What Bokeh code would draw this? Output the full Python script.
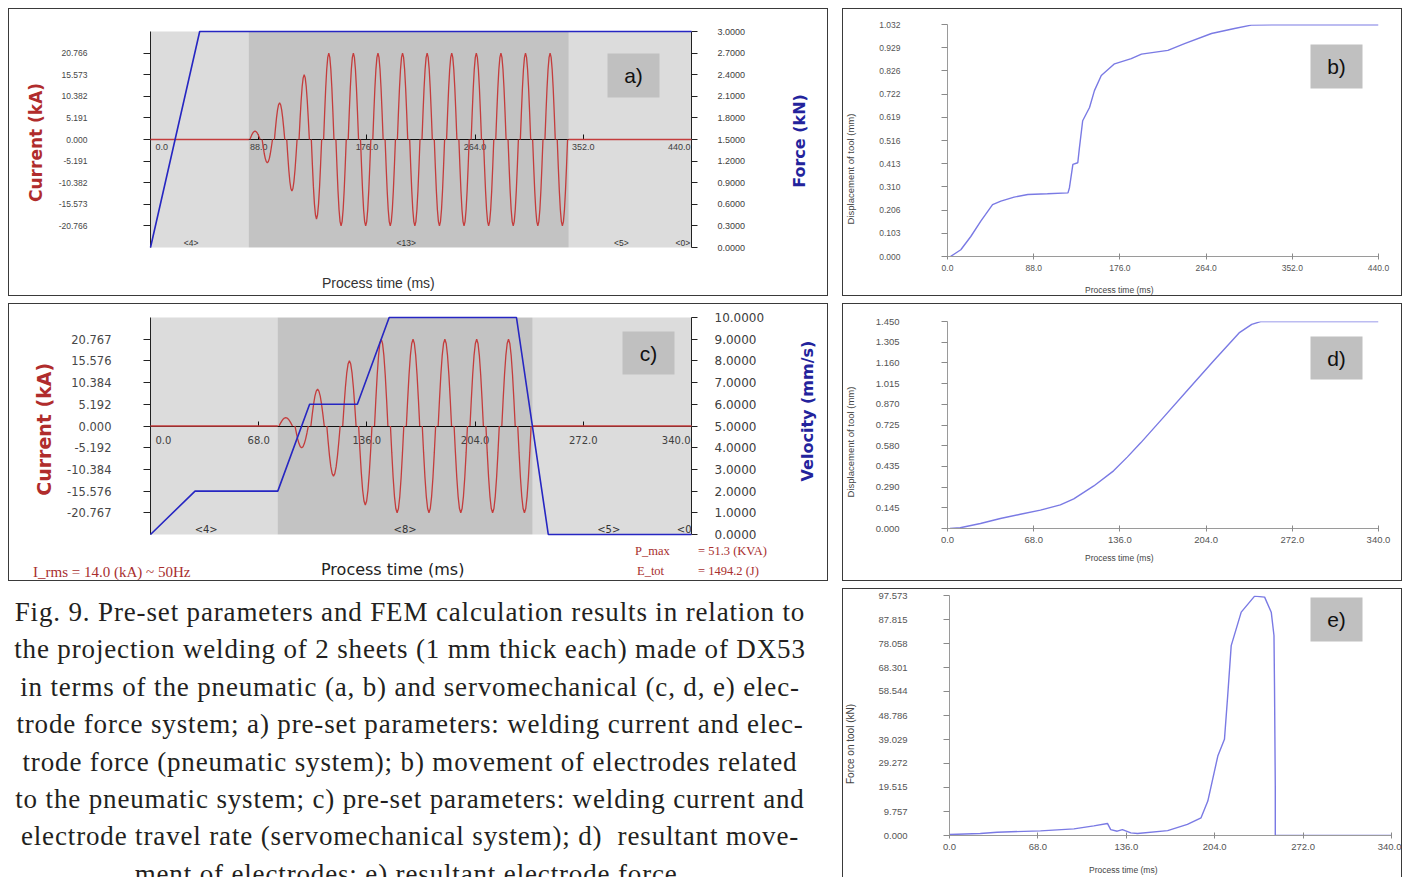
import math
from bokeh.plotting import figure
from bokeh.models import (Range1d, LinearAxis, FixedTicker, PrintfTickFormatter,
                          BoxAnnotation, Label, Div)
from bokeh.layouts import row, column
from bokeh.embed import file_html
from bokeh.resources import INLINE
from bokeh.core.properties import value

NAN = float("nan")

# ---------------- (a) pneumatic system: pre-set current & electrode force ----------------
a_time_ticks = [0.0, 88.0, 176.0, 264.0, 352.0, 440.0]
a_current_ticks = [-20.766, -15.573, -10.382, -5.191, 0.0, 5.191, 10.382, 15.573, 20.766]
a_current_limit = 25.9575
a_force_ticks = [0.0, 0.3, 0.6, 0.9, 1.2, 1.5, 1.8, 2.1, 2.4, 2.7, 3.0]
a_phase_bounds = [0.0, 80.0, 340.0, 440.0]          # squeeze | weld | hold | end
a_phase_names = ["<4>", "<13>", "<5>", "<0>"]
a_phase_name_t = [33.0, 208.0, 383.0, 433.0]
a_half_cycle_peak_kA = [2.0, -5.6, 8.8, -12.4, 15.6, -19.1,
                        20.766, -20.766, 20.766, -20.766, 20.766, -20.766, 20.766, -20.766,
                        20.766, -20.766, 20.766, -20.766, 20.766, -20.766, 20.766, -20.766,
                        20.766, -20.766, 20.766, -20.766]
a_force_t = [0.0, 40.0, 440.0]
a_force_kN = [0.0, 3.0, 3.0]

# ---------------- (c) servomechanical system: pre-set current & travel rate ----------------
c_time_ticks = [0.0, 68.0, 136.0, 204.0, 272.0, 340.0]
c_current_ticks = [-20.767, -15.576, -10.384, -5.192, 0.0, 5.192, 10.384, 15.576, 20.767]
c_current_limit = 25.959
c_velocity_ticks = [0.0, 1.0, 2.0, 3.0, 4.0, 5.0, 6.0, 7.0, 8.0, 9.0, 10.0]
c_phase_bounds = [0.0, 80.0, 240.0, 340.0]
c_phase_names = ["<4>", "<8>", "<5>", "<0>"]
c_phase_name_t = [35.0, 160.0, 288.0, 338.0]
c_half_cycle_peak_kA = [2.0, -5.2, 8.8, -12.0, 15.6, -18.9,
                        20.767, -20.767, 20.767, -20.767, 20.767, -20.767,
                        20.767, -20.767, 20.767, -20.767]
c_velocity_t = [0.0, 28.0, 80.0, 100.0, 130.0, 150.0, 230.0, 250.0, 340.0]
c_velocity_mms = [0.0, 2.0, 2.0, 6.0, 6.0, 10.0, 10.0, 0.0, 0.0]
c_notes = ["I_rms = 14.0 (kA) ~ 50Hz", "P_max", "= 51.3 (KVA)", "E_tot", "= 1494.2 (J)"]

# ---------------- (b) displacement of tool, pneumatic ----------------
b_time_ticks = [0.0, 88.0, 176.0, 264.0, 352.0, 440.0]
b_disp_ticks = [0.0, 0.103, 0.206, 0.310, 0.413, 0.516, 0.619, 0.722, 0.826, 0.929, 1.032]
b_time = [3.0, 13.6, 23.8, 34.0, 46.0, 54.5, 68.0, 82.0, 102.0, 123.0, 124.5, 128.0, 133.0,
          134.7, 138.0, 145.0, 150.0, 157.0, 170.5, 187.6, 198.0, 225.0, 242.0, 269.5,
          293.0, 310.0, 334.0, 440.0]
b_disp = [0.0, 0.030, 0.089, 0.157, 0.231, 0.246, 0.264, 0.276, 0.279, 0.283, 0.306, 0.410,
          0.417, 0.484, 0.604, 0.663, 0.738, 0.805, 0.857, 0.880, 0.900, 0.917, 0.947, 0.992,
          1.014, 1.029, 1.031, 1.031]

# ---------------- (d) displacement of tool, servomechanical ----------------
d_time_ticks = [0.0, 68.0, 136.0, 204.0, 272.0, 340.0]
d_disp_ticks = [0.0, 0.145, 0.290, 0.435, 0.580, 0.725, 0.870, 1.015, 1.160, 1.305, 1.450]
d_time = [2.0, 10.0, 26.0, 41.7, 57.5, 73.3, 89.0, 99.6, 115.4, 131.0, 141.8, 152.4, 170.0,
          190.0, 210.0, 230.0, 240.0, 247.0, 340.0]
d_disp = [0.0, 0.005, 0.035, 0.070, 0.100, 0.129, 0.165, 0.207, 0.298, 0.404, 0.500, 0.600,
          0.775, 0.975, 1.175, 1.370, 1.430, 1.449, 1.449]

# ---------------- (e) force on tool, servomechanical ----------------
e_time_ticks = [0.0, 68.0, 136.0, 204.0, 272.0, 340.0]
e_force_ticks = [0.0, 9.757, 19.515, 29.272, 39.029, 48.786, 58.544, 68.301, 78.058, 87.815, 97.573]
e_time = [0.0, 23.7, 36.6, 70.0, 95.7, 111.0, 121.5, 124.0, 129.0, 133.0, 139.5, 144.6, 167.8,
          183.0, 193.5, 198.7, 206.4, 211.5, 214.0, 216.7, 224.4, 234.7, 242.4, 247.5, 249.6,
          250.0, 250.6, 250.6, 340.0]
e_force = [0.4, 0.8, 1.35, 1.9, 2.7, 3.9, 4.9, 2.4, 1.75, 2.4, 1.06, 0.8, 2.0, 4.5, 7.2, 14.0,
           32.3, 39.1, 56.8, 77.2, 90.8, 97.3, 96.9, 90.8, 81.3, 60.9, 20.0, 0.0, 0.0]

# 50 Hz half-cycle lobe shape of the phase-controlled current
half_cycle_ms = 10.0
lobe_t_in_half = [0.8, 1.64, 2.48, 3.32, 4.16, 5.0, 5.84, 6.68, 7.52, 8.36, 9.2]
lobe_rel_amp = [0.0, 0.31, 0.59, 0.81, 0.95, 1.0, 0.95, 0.81, 0.59, 0.31, 0.0]

caption_lines = [
    "Fig. 9. Pre-set parameters and FEM calculation results in relation to",
    "the projection welding of 2 sheets (1 mm thick each) made of DX53",
    "in terms of the pneumatic (a, b) and servomechanical (c, d, e) elec-",
    "trode force system; a) pre-set parameters: welding current and elec-",
    "trode force (pneumatic system); b) movement of electrodes related",
    "to the pneumatic system; c) pre-set parameters: welding current and",
    "electrode travel rate (servomechanical system); d)&nbsp; resultant move-",
    "ment of electrodes; e) resultant electrode force.",
]

# ---------------- styles ----------------
RED = "#c43c3c"
RED_T = "#b02c2c"
BLUE = "#2626c2"
BLUE_T = "#23239c"
LAV = "#7a7ae4"
LIGHT = "#dcdcdc"
DARK = "#c3c3c3"
TAG = "#c0c0c0"
B = "1px solid #3a3a3a"
TOP_LEFT = {"border-top": B, "border-left": B}
TOP_RIGHT = {"border-top": B, "border-right": B}
LEFT_RIGHT_BOTTOM = {"border-left": B, "border-right": B, "border-bottom": B}
DIV_SHIFT = 11   # measured vertical offset of absolutely placed spans inside a Div
SERIF = "'Liberation Serif'"
SANS = "'Liberation Sans'"
DEJAVU = "'DejaVu Sans'"
NOTE = "#a82e2e"


def current_trace(peaks, bounds):
    t0, w0, w1, t1 = bounds
    xs, ys = [t0, w0, NAN], [0.0, 0.0, NAN]
    for i, pk in enumerate(peaks):
        start = w0 + i * half_cycle_ms
        xs += [start + o for o in lobe_t_in_half] + [NAN]
        ys += [pk * r for r in lobe_rel_amp] + [NAN]
    xs += [w1, t1]
    ys += [0.0, 0.0]
    return xs, ys


def add_tag(p, text, left, right, bottom, top):
    p.add_layout(BoxAnnotation(left=left, right=right, bottom=bottom, top=top,
                               left_units="screen", right_units="screen",
                               bottom_units="screen", top_units="screen",
                               fill_color=TAG, fill_alpha=1.0, line_color=None,
                               level="annotation"))
    p.add_layout(Label(x=(left + right) / 2, y=(bottom + top) / 2, x_units="screen",
                       y_units="screen", text=text, text_align="center",
                       text_baseline="middle", text_font="Liberation Sans",
                       text_font_size="21px", text_color="#111111"))


def span(txt, left, top, font, size, color):
    return (f'<span style="position:absolute;left:{left}px;top:{top - DIV_SHIFT}px;'
            f'white-space:pre;font-family:{font};font-size:{size};line-height:1.15;'
            f'color:{color}">{txt}</span>')


def rotated(txt, cx, cy, font, size, color, weight="normal"):
    return (f'<span style="position:absolute;left:{cx}px;top:{cy - DIV_SHIFT}px;'
            f'transform:translate(-50%,-50%) rotate(-90deg);white-space:pre;'
            f'font-family:{font};font-weight:{weight};font-size:{size};'
            f'line-height:1.15;color:{color}">{txt}</span>')


def strip(width, height, spans, styles):
    html = ('<div style="position:relative;width:100%;height:100%;">' + "".join(spans) +
            "</div>")
    return Div(text=html, width=width, height=height, margin=0, styles=styles)


def std_axis(**kw):
    base = dict(major_tick_in=0, minor_tick_in=0, minor_tick_out=0,
                axis_label_text_font_style="normal")
    base.update(kw)
    return LinearAxis(**base)


def preset_panel(width, height, bounds, ylim, y2_end, mb):
    p = figure(width=width, height=height, x_range=Range1d(bounds[0], bounds[-1]),
               y_range=Range1d(-ylim, ylim), x_axis_type=None, y_axis_type=None,
               toolbar_location=None, output_backend="svg",
               min_border_left=mb[0], min_border_right=mb[1], min_border_top=mb[2],
               min_border_bottom=mb[3], background_fill_color=LIGHT,
               border_fill_color="white", outline_line_color=None, styles=TOP_LEFT)
    p.extra_y_ranges = {"y2": Range1d(0, y2_end)}
    p.add_layout(BoxAnnotation(left=bounds[1], right=bounds[2], fill_color=DARK,
                               fill_alpha=1.0, line_color=None, level="underlay"))
    return p


def zero_axis(p, ticks, font, size, yoff):
    p.add_layout(std_axis(fixed_location=0, ticker=FixedTicker(ticks=ticks),
                          major_tick_in=5, major_tick_out=0, major_label_text_color=None,
                          axis_line_color="#111111", major_tick_line_color="#111111"),
                 "below")
    labels = [f"{t:.1f}" for t in ticks]
    common = dict(text_font=value(font), text_font_size=size, text_baseline="top",
                  text_color="#404040", y_offset=yoff)
    p.text(x=ticks[:1], y=[0.0], text=labels[:1], text_align="left", x_offset=5, **common)
    p.text(x=ticks[1:-1], y=[0.0] * (len(ticks) - 2), text=labels[1:-1],
           text_align="center", **common)
    p.text(x=ticks[-1:], y=[0.0], text=labels[-1:], text_align="right", x_offset=-1, **common)


def left_axis(ticks, font, size, stand, lfs, lstand):
    return std_axis(ticker=FixedTicker(ticks=ticks), formatter=PrintfTickFormatter(format="%.3f"),
                    axis_label="Current  (kA)", axis_label_text_font="DejaVu Sans",
                    axis_label_text_font_style="bold", axis_label_text_font_size=lfs,
                    axis_label_text_color=RED_T, axis_label_standoff=lstand,
                    major_label_text_font=font, major_label_text_font_size=size,
                    major_label_text_color="#474747", major_label_standoff=stand,
                    major_tick_out=7, axis_line_color="#222222",
                    major_tick_line_color="#222222")


def right_axis(ticks, stand, font, size):
    return std_axis(y_range_name="y2", ticker=FixedTicker(ticks=ticks),
                    formatter=PrintfTickFormatter(format="%.4f"),
                    major_label_text_font=font, major_label_text_font_size=size,
                    major_label_text_color="#404040", major_label_standoff=stand,
                    major_tick_out=6, axis_line_color="#222222",
                    major_tick_line_color="#222222")


# ================= panel a =================
pa = preset_panel(762, 254, a_phase_bounds, a_current_limit, a_force_ticks[-1],
                  (141, 80, 22, 16))
pa.add_layout(left_axis(a_current_ticks, "Liberation Sans", "8.5px", 56, "17px", 10), "left")
pa.add_layout(right_axis(a_force_ticks, 20, "Liberation Sans", "9px"), "right")
zero_axis(pa, a_time_ticks, "Liberation Sans", "9px", 4)
ax, ay = current_trace(a_half_cycle_peak_kA, a_phase_bounds)
r = pa.line(ax, ay, line_color=RED, line_width=1.3)
r.level = "annotation"
r = pa.line(a_force_t, a_force_kN, y_range_name="y2", line_color=BLUE, line_width=1.6)
r.level = "annotation"
pa.text(x=a_phase_name_t, y=[-a_current_limit] * len(a_phase_names), text=a_phase_names,
        text_font=value("Liberation Sans"), text_font_size="8.5px", text_align="center",
        text_baseline="bottom", text_color="#333333")
add_tag(pa, "a)", 457, 509, 150, 194)
ra = strip(58, 254, [rotated("Force (kN)", 30, 131, DEJAVU, "16px", BLUE_T, "bold")],
           TOP_RIGHT)
sa = strip(820, 34, [span("Process time (ms)", 313, 12, SANS, "14px", "#333333")],
           LEFT_RIGHT_BOTTOM)

# ================= panel c =================
pc = preset_panel(777, 240, c_phase_bounds, c_current_limit, c_velocity_ticks[-1],
                  (141, 95, 13, 10))
pc.add_layout(left_axis(c_current_ticks, "DejaVu Sans", "11.5px", 32, "19px", 9), "left")
pc.add_layout(right_axis(c_velocity_ticks, 17, "DejaVu Sans", "12px"), "right")
zero_axis(pc, c_time_ticks, "DejaVu Sans", "10px", 10)
cx, cy = current_trace(c_half_cycle_peak_kA, c_phase_bounds)
r = pc.line(cx, cy, line_color=RED, line_width=1.3)
r.level = "annotation"
r = pc.line(c_velocity_t, c_velocity_mms, y_range_name="y2", line_color=BLUE, line_width=1.6)
r.level = "annotation"
pc.text(x=c_phase_name_t, y=[-c_current_limit] * len(c_phase_names), text=c_phase_names,
        text_font=value("DejaVu Sans"), text_font_size="10px", text_align="center",
        text_baseline="bottom", text_color="#333333")
add_tag(pc, "c)", 472, 524, 160, 203)
rc = strip(43, 240, [rotated("Velocity (mm/s)", 23, 106, DEJAVU, "16px", BLUE_T, "bold")],
           TOP_RIGHT)
sc = strip(820, 38, [
    span(c_notes[0], 24, 20, SERIF, "15px", NOTE),
    span("Process time (ms)", 312, 17, DEJAVU, "16px", "#222222"),
    span(c_notes[1], 626, 0, SERIF, "12.5px", NOTE),
    span(c_notes[2], 689, 0, SERIF, "12.5px", NOTE),
    span(c_notes[3], 628, 20, SERIF, "12.5px", NOTE),
    span(c_notes[4], 689, 20, SERIF, "12.5px", NOTE),
], LEFT_RIGHT_BOTTOM)


# ================= panels b, d, e =================
def result_panel(height, t_ticks, y_ticks, t, y, mb, tag, tag_box, yfs, stand):
    p = figure(width=540, height=height, x_range=Range1d(t_ticks[0], t_ticks[-1]),
               y_range=Range1d(y_ticks[0], y_ticks[-1]), x_axis_type=None,
               y_axis_type=None, toolbar_location=None, output_backend="svg",
               min_border_left=mb[0], min_border_right=mb[1], min_border_top=mb[2],
               min_border_bottom=mb[3], background_fill_color="white",
               border_fill_color="white", outline_line_color=None, styles=TOP_RIGHT)
    p.add_layout(std_axis(ticker=FixedTicker(ticks=y_ticks),
                          formatter=PrintfTickFormatter(format="%.3f"),
                          major_label_text_font="Liberation Sans",
                          major_label_text_font_size=yfs, major_label_text_color="#555555",
                          major_label_standoff=stand, major_tick_out=6,
                          axis_line_color="#9a9a9a", major_tick_line_color="#8a8a8a"), "left")
    p.add_layout(std_axis(ticker=FixedTicker(ticks=t_ticks),
                          formatter=PrintfTickFormatter(format="%.1f"),
                          major_label_text_font="Liberation Sans",
                          major_label_text_font_size=yfs, major_label_text_color="#555555",
                          major_label_standoff=5, major_tick_out=3, major_tick_in=3,
                          axis_line_color="#9a9a9a", major_tick_line_color="#8a8a8a"), "below")
    p.line(t, y, line_color=LAV, line_width=1.4)
    add_tag(p, tag, *tag_box)
    return p


pb = result_panel(272, b_time_ticks, b_disp_ticks, b_time, b_disp, (85, 24, 15, 25),
                  "b)", (363, 415, 168, 212), "8.5px", 41)
lb = strip(20, 272, [rotated("Displacement of tool (mm)", 8, 159, SANS, "9.5px", "#444444")],
           TOP_LEFT)
sb = strip(560, 16, [span("Process time (ms)", 242, 5, SANS, "8.5px", "#444444")],
           LEFT_RIGHT_BOTTOM)
pd = result_panel(245, d_time_ticks, d_disp_ticks, d_time, d_disp, (85, 24, 17, 21),
                  "d)", (363, 415, 149, 192), "9.5px", 42)
ld = strip(20, 245, [rotated("Displacement of tool (mm)", 8, 137, SANS, "9.5px", "#444444")],
           TOP_LEFT)
sd = strip(560, 33, [span("Process time (ms)", 242, 5, SANS, "8.5px", "#444444")],
           LEFT_RIGHT_BOTTOM)
pe = result_panel(268, e_time_ticks, e_force_ticks, e_time, e_force, (87, 11, 6, 22),
                  "e)", (361, 413, 194, 238), "9.5px", 36)
le = strip(20, 268, [rotated("Force on tool (kN)", 8, 154, SANS, "10px", "#444444")],
           TOP_LEFT)
se = strip(560, 21, [span("Process time (ms)", 246, 9, SANS, "8.5px", "#444444")],
           {"border-left": B, "border-right": B})

caption = Div(text='<div style="padding-top:6px">' + "<br>".join(caption_lines) + "</div>",
              width=804, height=289, margin=0,
              styles={"font-family": "'Liberation Serif', serif", "font-size": "27px",
                      "line-height": "37.4px", "letter-spacing": "0.85px",
                      "text-align": "center", "color": "#231f20", "overflow": "hidden"})

left_col = column(column(row(pa, ra), sa), column(row(pc, rc), sc), caption, spacing=7)
right_col = column(column(row(lb, pb), sb), column(row(ld, pd), sd), column(row(le, pe), se),
                   spacing=7)
layout = row(left_col, right_col, spacing=14, margin=(8, 0, 0, 8))

open("out.html", "w").write(file_html(layout, INLINE))
